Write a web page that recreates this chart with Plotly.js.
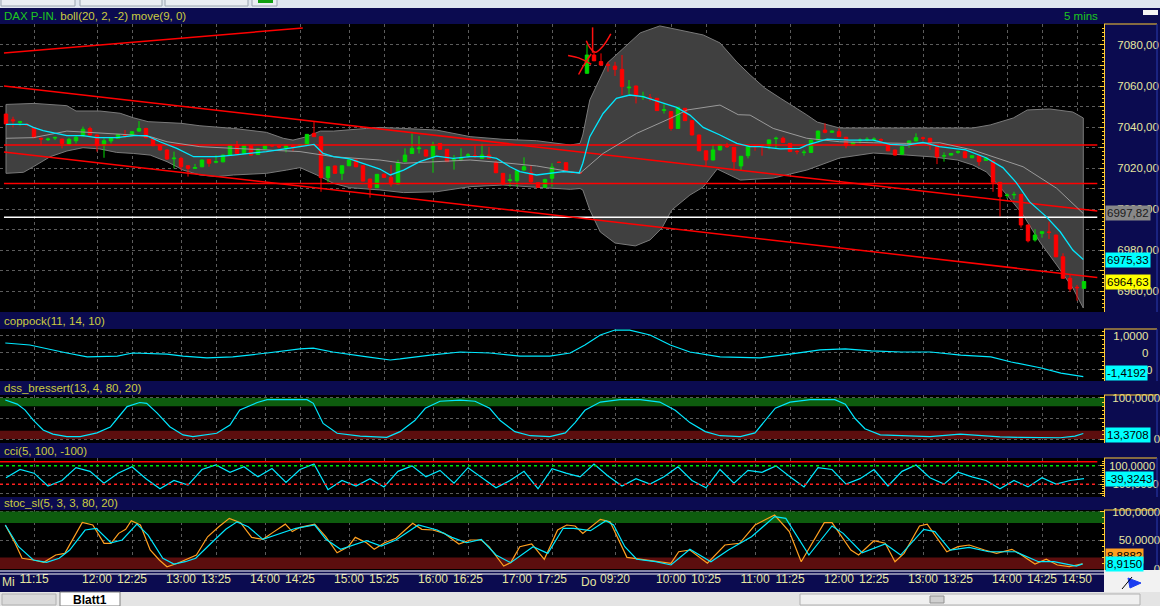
<!DOCTYPE html>
<html><head><meta charset="utf-8">
<script src="https://cdn.plot.ly/plotly-3.0.1.min.js"></script>
<style>html,body{margin:0;padding:0;background:#000;overflow:hidden}#chart{width:1160px;height:606px}</style>
</head><body><div id="chart"></div>
<script>
// ---------------- DATA ----------------
// x-axis tick labels (bar index of the tick, label text)
const tickBars   = [4,13,18,25,30,37,42,49,54,61,66,73,78,87,95,100,107,112,119,124,131,136,143,148,153];
const tickLabels = ['11:15','12:00','12:25','13:00','13:25','14:00','14:25','15:00','15:25','16:00','16:25','17:00','17:25',
                    '09:20','10:00','10:25','11:00','11:25','12:00','12:25','13:00','13:25','14:00','14:25','14:50'];
const dayLabels = ['Mi','Do'];

// 5-minute candles (Mi 10:55 .. 17:40, Do 09:00 .. 14:55)
const open = [
 7046.3,7043.5,7042.2,7041.3,7039.7,7034.5,7033.8,7034.6,7034.1,7031.7,
 7033.3,7035.6,7039.3,7036.1,7031.2,7033.2,7034.5,7036.2,7035.8,7038,
 7039.3,7034.8,7031.2,7028.8,7024.5,7024.7,7021.1,7019.8,7020.6,7024.2,
 7022.8,7023,7026.3,7031.2,7027.1,7030.9,7026.6,7029.3,7031.1,7030.6,
 7029.6,7030.7,7030.8,7031.2,7036.9,7035.3,7015.3,7021,7017.4,7021.1,
 7023.9,7021.1,7014.6,7010.4,7017,7015.4,7012.2,7023.1,7027.1,7029.4,
 7028.8,7025.5,7032,7029.1,7023.8,7024.3,7026.1,7026,7024.7,7026.3,
 7022.6,7017.4,7013.9,7013.8,7019,7017.7,7012.8,7010.6,7015,7022.9,
 7022.6,7017.9,7017.8,7066.2,7075.1,7071.9,7070.4,7069.7,7068.1,7059.1,
 7060,7054.6,7054.2,7054,7048.1,7047.5,7039.3,7049.1,7043.1,7036.1,
 7028.4,7023.9,7028.8,7030.6,7030.1,7021,7026,7030.6,7031.1,7030.9,
 7034.3,7034.5,7032,7028.1,7027.5,7027.6,7033.6,7038.5,7037.4,7037.7,
 7035,7031.2,7033.4,7033.8,7033.9,7033.8,7031.5,7028.8,7026.7,7032,
 7033.2,7034.7,7034.5,7030.4,7025.8,7026.3,7027.7,7027.9,7025,7026,
 7023.7,7023.6,7013,7006.6,7006.9,7007.1,6992.2,6984.9,6988.1,6988.8,
 6987.3,6976.7,6966.2,6961.8,6961.3];
const high = [
 7046.5,7045,7043,7042,7040,7034.8,7034.8,7035.3,7034.3,7034.8,
 7035.8,7040.2,7040.2,7036.4,7034.5,7035,7036.6,7038.5,7038,7042.9,
 7039.6,7035,7031.4,7029.2,7028,7025.5,7021.3,7022,7024.1,7024.4,
 7026.3,7026.5,7031.2,7033.2,7031.1,7031.1,7029.5,7031.1,7031.3,7031,
 7031.1,7031.5,7031.5,7036.6,7042.9,7035.5,7020.8,7021.2,7021.3,7024.1,
 7024.1,7021.3,7014.8,7017.1,7017.2,7021.4,7024,7029.6,7036.9,7035.6,
 7029,7032.8,7032.2,7029.3,7026.3,7029.6,7027.3,7031,7031.8,7030.3,
 7023.6,7017.6,7017,7018.9,7025.2,7021.4,7013,7014.8,7022.3,7023.1,
 7022.8,7018.1,7018,7080.3,7077,7075.9,7071.8,7071.8,7075.1,7062.9,
 7060.2,7057.2,7056.1,7054.2,7051.2,7047.7,7049.8,7049.3,7043.3,7036.3,
 7028.6,7031.2,7031.4,7032.3,7030.3,7025.9,7030.6,7031.2,7031.4,7033.9,
 7035.3,7035.3,7032.2,7028.8,7028.8,7033.8,7038.2,7041.8,7038.3,7039.3,
 7035.2,7032.7,7034.5,7035,7035,7034.5,7031.7,7029,7030.6,7033.4,
 7036.9,7035.3,7034.7,7030.6,7027.6,7027.3,7028.6,7028.1,7026.2,7026.2,
 7025.1,7023.8,7013.2,7007.6,7008.4,7007.3,6992.4,6990.2,6989.1,6993.8,
 6987.5,6978.4,6967.8,6962.9,6964.8];
const low = [
 7041.3,7039.8,7040.6,7040.8,7034.5,7031.2,7033.2,7033.6,7029.6,7031.2,
 7032,7035.3,7035.8,7028,7025,7032,7034.2,7034.8,7035.5,7037.7,
 7034.5,7030.6,7028.5,7023.9,7019.8,7019,7015.8,7019.5,7020.4,7020.6,
 7022.3,7022.8,7026.1,7026.6,7026.9,7026.1,7026.4,7029.1,7030.3,7029.6,
 7027.6,7028.1,7030.5,7031,7035.1,7008.4,7013,7017.2,7014.1,7020.9,
 7020.4,7013.4,7005.5,7010.2,7015.2,7010.9,7012,7022.9,7026.9,7027.1,
 7025.6,7017.7,7028.9,7022.9,7019.2,7023.3,7025,7024.8,7024.5,7024.5,
 7017.5,7011.7,7010.9,7010.9,7018.8,7012.5,7010.4,7010.4,7010.9,7022.5,
 7018.5,7017.5,7017.4,7066,7072.1,7070,7067,7064.9,7055.6,7056.1,
 7051.5,7053.2,7052.6,7047.8,7046.6,7038.2,7039.1,7042.9,7035.9,7028.2,
 7021,7023.7,7028.6,7029.8,7018.7,7019,7024.7,7028.4,7026,7029.2,
 7029.6,7032.3,7027.8,7026.7,7026,7027.4,7033.4,7036.9,7037.2,7035.1,
 7029.6,7031,7032,7033,7033,7032,7028.2,7026.1,7026.5,7029.9,
 7033,7033.2,7028.8,7021.9,7023.1,7026.1,7026.9,7024.8,7024.8,7021.1,
 7023.5,7008.4,6996.3,7005.2,7004.9,6990.9,6983.7,6984.1,6986,6985.4,
 6976.5,6966,6959.7,6955.3,6961.1];
const close = [
 7041.5,7043,7042.6,7041,7034.8,7034.1,7034.1,7034.9,7032,7034,
 7035,7038.9,7036.1,7030.9,7033.3,7034.8,7036.4,7035.9,7037.7,7039.3,
 7034.8,7030.9,7028.8,7024.4,7024.8,7020.6,7019.8,7020.2,7023.9,7022.3,
 7023.1,7026.3,7030.9,7027.1,7030.9,7026.3,7029.3,7030.9,7030.8,7030.3,
 7030.9,7030.4,7031.2,7036.4,7035.3,7015.3,7020.6,7017.4,7021.1,7023.9,
 7020.6,7013.6,7010.4,7016.9,7015.4,7012.2,7022.6,7026.3,7029.6,7029.7,
 7025.8,7031.2,7029.1,7023.1,7024,7024.8,7026.4,7025.7,7026.3,7024.7,
 7017.7,7012.2,7014.2,7018.7,7020.6,7013.3,7010.6,7014.4,7020.4,7022.7,
 7018.7,7017.7,7017.6,7075.1,7072.3,7070.2,7070.1,7068.1,7059.7,7059.4,
 7055.1,7054.9,7054,7048,7048.4,7039.3,7049.6,7043.1,7036.1,7028.4,
 7023.9,7028.8,7031.2,7030.4,7023.1,7025.7,7030.4,7030.4,7030.9,7033.7,
 7034.5,7032.5,7028,7028,7027.7,7033.6,7038,7037.4,7038,7035.3,
 7030.9,7032.5,7033.6,7034,7034.1,7033.6,7028.4,7026.3,7030.4,7033.2,
 7034.8,7034.5,7032.5,7025.5,7026,7027.1,7027.9,7025,7026,7023.1,
 7024.9,7013,7006,7006.8,7007.1,6992.2,6984.5,6987.3,6988.9,6988.6,
 6976.7,6966.2,6961,6961.6,6964.63];

// Bollinger envelope (bar position, price)
const bollUpX = [0,4,8.7,10,13.4,16.3,18.2,20.3,25,27.7,32.5,37.2,39.6,41,43,44.9,46.8,51.5,53.4,56.8,61.5,66.3,71,75.8,80.6,82,
  82.4,83.4,85.9,90.6,93.4,99.6,102,104.4,106.3,108.4,110.6,114.4,115.9,119.1,127.7,138.1,140.6,143.9,145.9,149.1,152.4,153.9];
const bollUpY = [7051,7051.5,7050.4,7047.8,7047.8,7046.7,7044.5,7042.6,7041.8,7040.6,7039.3,7037.4,7034.5,7033.6,7035.3,7038,7038,7039.3,7039.8,7039.3,7038.5,7035.3,7034,7033.3,7031.2,7032,
  7036.1,7053.2,7071.2,7085.9,7089.3,7084.9,7081,7071.7,7065.4,7059,7054.1,7045.9,7042.4,7039.5,7039.5,7039.5,7041,7044.4,7048.3,7048.8,7047.3,7044.4];
const bollLoX = [0,2.5,3.9,6.3,8.7,11,13.4,15.8,18.2,20.6,23,25.3,27.7,30.1,32.5,37.2,40.1,42,44.4,46.8,49.1,53.4,56.8,61.5,66.3,71,75.8,80.6,82,
  82.4,83.4,84.9,87,89.9,92,93.7,95.1,97.7,99.6,101.6,104.9,109.6,114.4,119.1,123.9,128.7,132.4,135.9,138.1,140.1,143,145.3,147.7,150.1,152.4,153.9];
const bollLoY = [7017.4,7017.9,7020.6,7025.5,7028.3,7029.9,7029.3,7027.6,7027.1,7026.3,7023.1,7019,7016.6,7015.8,7016.6,7017.4,7019,7020.2,7016.6,7012.5,7010.4,7009.3,7008,7008.4,7010.9,7011.7,7010.6,7009.6,7010,
  7009.3,6999.5,6988.8,6983.4,6982,6984.9,6990.7,6999.5,7006.8,7010.7,7019.5,7014.1,7015.1,7019,7024.9,7027.3,7026.3,7025.4,7023.9,7021.5,7018,7006.8,6997.1,6983.9,6972.7,6961.5,6951.7];
// Bollinger middle (grey) line
const bollMidX = [0,3.9,8.7,13.4,18.2,20.6,23,27.7,32.5,37.2,42,46.8,53.4,56.8,61.5,66.3,71,75.8,80.6,82,85.3,90.1,94.9,97.3,102,104.6,106.3,109.6,114.4,119.1,123.9,128.7,133.4,138.1,141,145.3,150.1,153.9];
const bollMidY = [7034.5,7034.8,7038,7037.2,7036.1,7035.3,7032.8,7030.4,7029.6,7029.1,7028,7025.5,7023.9,7022.3,7023.1,7023.9,7022.6,7021,7018.2,7017.4,7027.1,7036.9,7044.2,7048.3,7050.7,7046,7045.8,7039.3,7034.5,7032.8,7032.3,7032,7032.3,7028.8,7025.5,7020.6,7010.1,6997.82];
// move(9) cyan line
const moveX = [0,3,3.9,5.3,8.7,11,12.9,15.8,18.2,20.1,22,24.4,26.8,30.1,32.5,37.2,42,44,45.3,46.8,49.1,51.5,53.4,54.9,56.8,59.1,61.5,63.9,66.3,68.7,70.1,72,73.4,75.8,77.7,79.6,81.9,
  82.4,83.4,85.3,87.2,89.1,91,93.4,95.8,97.7,99.6,102,104.4,106.3,107.7,110.6,113.4,114.4,117.3,120.6,123.9,126.3,128.7,131,133.3,137.1,140,142.4,144.3,146.2,148.6,150.6,152.4,153.9];
const moveY = [7041.3,7041.3,7039.8,7038.2,7035.8,7035.8,7034.8,7034.8,7035.8,7035.8,7032.8,7029.6,7025.5,7025.5,7026.3,7028,7030.4,7031.5,7027.1,7025.5,7024.4,7021.5,7019.5,7016.6,7019,7023.1,7025.8,7024.7,7025.5,7025.5,7024.7,7020.6,7018.2,7016.6,7017.4,7018.2,7017.7,
  7022.3,7035.3,7046.6,7054,7055.6,7054.8,7052.3,7049.6,7045.8,7039.8,7036.1,7032,7030.4,7030.4,7029.3,7029.6,7031.2,7034.1,7033.6,7033.6,7031.5,7031.2,7032.5,7030.4,7028.8,7025,7020.2,7013,7003.6,6996.3,6988.9,6980,6975.33];

// drawn lines (bar position, price)
const topLineX = [-0.29, 42.4],     topLineY = [7076.1, 7088.3];
const chanUpX  = [-0.29, 155.9],    chanUpY  = [7060, 6999];
const chanLoX  = [-0.29, 155.9],    chanLoY  = [7027.8, 6966.6];
const hLineX   = [-0.29, 155.9];
const hLevels  = [7031.2, 7012.5];
const whiteLevel = 6996;
// hand drawn marks (bar position, price)
const markArrowX = [83.8, 83.8],            markArrowY = [7088.6, 7076.2];
const markHookX  = [82.9, 83.4, 84.2, 85.3, 86.4], markHookY = [7082.1, 7078.8, 7076.4, 7079.5, 7085.4];
const markX1X = [80.3, 81.8, 83.6],  markX1Y = [7074.9, 7073.7, 7070.6];
const markX2X = [83.6, 82.6, 81.8], markX2Y = [7075.6, 7070.4, 7065.6];

const priceTicks = [6960,6980,7000,7020,7040,7060,7080];
const lastValues = {gray: 6997.82, cyan: 6975.33, yellow: 6964.63};

// coppock(11,14,10)
const copX = [-0.1,3.4,8.7,11.6,15.9,18.1,23,25.3,28.7,32.4,37.3,42,43.9,46.7,51.6,54.9,56.3,60.6,64.9,69.1,73.4,77.7,80.6,82.7,84.9,87,89.1,92,94.9,97.7,102,107.7,112,116.3,119.9,123.6,127.9,132.1,136.4,140.7,143.6,147.9,150.7,153.9];
const copY = [0.56,0.44,-0.03,-0.26,-0.21,-0.03,-0.09,-0.21,-0.32,-0.26,-0.03,0.21,0.26,0.03,-0.26,-0.44,-0.38,-0.15,0.03,-0.03,-0.21,-0.21,-0.03,0.44,1.03,1.32,1.32,1.03,0.44,0.03,-0.26,-0.32,-0.09,0.15,0.21,0.09,0.03,0.03,-0.15,-0.26,-0.56,-0.91,-1.21,-1.4192];
const copTicks = [-1,0,1];

// dss_bressert(13,4,80,20)
const dssX = [-0.1,1.6,2.7,3.9,5.3,6.7,8.7,10.6,13,14.9,15.9,17.3,19.1,20.1,21.6,23.4,25.3,26.7,30.1,32,33.4,35.9,37.3,43,43.9,45.3,47.3,50.6,54.4,56.3,
  58.4,59.9,62,64.9,67,69.1,70.6,72.7,74.9,77.7,79.9,81.3,82.7,84.9,87.7,90.6,93.4,95.6,97.7,99.9,102,104.9,107,108.4,109.9,112,114.9,118.4,119.9,121.3,122.7,124.9,127.7,132,136.3,139.1,142,144.9,147.7,150.6,152.7,153.9];
const dssY = [95,85,71,46,22,12,6,6,15,29,50,79,89,87,63,30,10,6,14,34,71,89,96,96,87,38,14,7,4,18,
  45,75,92,95,92,75,45,18,8,6,15,40,70,90,96,96,90,70,40,18,8,6,15,45,75,90,96,96,85,50,25,10,8,6,12,8,5,4,4,3,7,13.3708];
const dssTicks = [0,100];

// cci(5,100,-100)
const cciX = [0,2,4,6,8,10,12,14,16,18,20,22,24,26,28,30,32,34,36,38,40,42,44,46,48,50,52,54,56,58,60,62,64,66,68,70,72,74,76,78,80,82,
  84,86,88,90,92,94,96,98,100,102,104,106,108,110,112,114,116,118,120,122,124,126,128,130,132,134,136,138,140,142,144,146,148,150,152,154];
const cciY = [-30,60,20,-120,-60,80,40,-90,20,90,-40,-150,-60,-110,60,110,30,90,-20,70,-80,60,120,-160,-60,-120,-40,-130,40,100,-20,50,-90,80,-30,-140,-60,40,-150,70,20,-20,
  120,-10,-120,-40,-100,-20,90,-60,-140,60,-90,50,30,100,-20,-130,80,60,-100,-40,60,-120,40,110,-30,-100,30,-20,-60,-150,-60,-130,-30,-100,-60,-39.3243];
const cciTicks = [-100,100];

// stoc_sl(5,3,3,80,20): %K (orange) and %D (cyan)
const stoKX = [-0.1,1.3,2.3,3.9,5.4,7.1,8.4,10.9,12.4,14,15,16.1,17.1,17.9,19.2,20.6,21.9,23,24.5,26.1,27.2,28.8,30.4,31.9,33.5,35.1,36.7,38.3,39.9,40.9,42,44.1,45.7,47.3,48.9,49.9,51.5,52.6,54.1,55.7,58.1,59.4,61,62.6,64.7,66.3,67.9,69,71.1,72.1,73.4,75.1,76.9,78.8,80.1,
  81.3,82.4,84.9,86.3,88.7,91.2,95,96.1,97.7,100.2,102.7,104.8,107,109.8,111.9,113.6,116.9,118,120.7,121.8,124,125.6,127,128.3,130.5,131.6,134.4,136,137.6,139.8,141.5,143.7,144.7,147,148.6,150.2,151.9,153.8];
const stoKY = [76.5,44.7,18.6,15.7,11.6,24.3,27.2,81,76.5,44.7,44.7,62,69,84,76.5,33,15.7,4,10,18.6,24.3,56,73.6,88,80.5,55,51.6,65,78,65,72.5,78,56,28.3,38.8,55,45.7,34.2,45.7,53.4,79.5,69,67.8,62,43.5,50.4,50.4,38.8,5.2,11,38.8,43.5,16.9,67.8,76.5,
  74.8,62,86.4,82.3,20.3,15.7,10,30,33,10,41.7,44.7,76.5,93.9,65,12.7,80.5,80.5,33,24.3,49.2,44.7,12.7,27.2,74.8,78,30,38.8,41.7,33,27.2,34.2,27.2,8.7,16.9,7,4,8.8882];
const stoDX = [-0.1,1.8,3.9,5.8,7.6,9.1,11.3,12.9,15,16.6,18.7,20.3,22.4,24,25.6,27.1,29.3,31.4,33,34.6,36.7,39.4,41.4,44.1,45.7,47.8,49.9,51.5,53.6,55.7,58.9,61.6,63.7,65.8,67.9,70,72.1,75.3,77.4,79.6,
  81.1,83.5,85.7,86.8,88.4,90.1,92.8,95,97.7,100.7,103.2,106.5,109.8,111.4,114.7,118,119.6,122.3,125.6,127.8,131.1,132.7,134.9,137.6,140.4,144.2,147.5,149.7,152.9,153.8];
const stoDY = [76.5,38.8,15.7,11.6,18.6,33,67.8,70.8,45.7,50.4,78,59,18.6,8.7,12.7,18.6,44.7,69,82,73.6,51.6,63,70.8,76.5,51.6,34.2,43.5,49.2,40,50.4,76.5,67.8,55,45.7,51.6,24.3,11,38.8,27.2,70.8,
  70.8,66.6,84,76.5,38.8,16.9,12.7,7,34.2,12.7,33,56,91,88,24.3,74.8,62,28.3,43.5,24.3,69,65,33,37.7,30,30,12.7,12.7,5.2,8.915];
const stoTicks = [0,50,100];

// ---------------- LAYOUT HELPERS (geometry only) ----------------
const W = 1160, H = 606;
const fx = x => x / W, fy = y => 1 - y / H;
const dom = (t, b) => [fy(b), fy(t)];
const NAVY = '#0b0b50', YEL = '#ffcc33', LBL = '#e6e6a0', GRID = '#5c5c5c', CYAN = '#00e8ff', ORANGE = '#ffa020';
const FONT = 'Liberation Sans, Arial, sans-serif';
const fmt = (v, d) => v === 0 ? '0' : v.toFixed(d).replace('.', ',');
// right-align tick text inside the label box with figure / punctuation spaces
const padTo = (s, ref) => {
  let pad = '';
  const extra = ref.length - s.length;
  for (let k = 0; k < extra; k++) pad += (ref[k] === ',' ? '\u2008' : '\u2007');
  return pad + s;
};
const idx = open.map((_, k) => k);

// pane geometry: pixel top/bottom, value range, grid step, minor tick step, labelled values
const panes = {
  main: {t: 24, b: 312, range: [6949.76, 7090.24], grid: 10, minor: 2, ticks: priceTicks, dec: 2, stand: 10, fs: 11.5},
  cop:  {t: 329, b: 381, range: [-1.676, 1.382], grid: 1, minor: 0.25, ticks: copTicks, dec: 4, stand: 6, fs: 11.5},
  dss:  {t: 395, b: 443, range: [-9.76, 107.3], grid: 50, minor: 10, ticks: dssTicks, dec: 4, stand: 5, fs: 11.5},
  cci:  {t: 458, b: 497, range: [-240.4, 185.8], grid: 100, minor: 25, ticks: cciTicks, dec: 4, stand: 2, fs: 11},
  sto:  {t: 510, b: 570, range: [-1.74, 102.6], grid: 50, minor: 10, ticks: stoTicks, dec: 4, stand: 5, fs: 11.5}
};
const order = ['main', 'cop', 'dss', 'cci', 'sto'];

const layout = {
  width: W, height: H, margin: {l: 0, r: 0, t: 0, b: 0},
  paper_bgcolor: NAVY, plot_bgcolor: '#000000', showlegend: false, hovermode: false,
  font: {family: FONT, size: 12, color: LBL},
  xaxis: {domain: [0, fx(1104)], range: [-0.857, 156.857], anchor: 'y5', tickmode: 'array',
    tickvals: tickBars, ticktext: tickLabels, showgrid: true, gridcolor: GRID, griddash: 'dot', gridwidth: 1,
    zeroline: false, showline: false, ticks: '', tickfont: {size: 12, color: LBL, family: FONT},
    rangeslider: {visible: false}, fixedrange: true},
  shapes: [], annotations: []
};

order.forEach((k, n) => {
  const p = panes[k];
  const id = n === 0 ? '' : String(n + 1);
  const labels = p.ticks.map(v => fmt(v, p.dec));
  const longest = labels.reduce((a, b) => (b.replace('-', '').length > a.length ? b.replace('-', '') : a), '');
  const labelOf = v => {
    const j = p.ticks.indexOf(v);
    if (j < 0) return '';
    const s = labels[j];
    return s.startsWith('-') ? s : padTo(s, longest);
  };
  // grid levels of the pane (every p.grid inside the visible range)
  const gridVals = [];
  for (let v = Math.ceil(p.range[0] / p.grid) * p.grid; v <= p.range[1]; v += p.grid) gridVals.push(Math.round(v * 1000) / 1000);
  layout['yaxis' + id] = {
    domain: dom(p.t, p.b), range: p.range, anchor: 'x', side: 'right',
    showline: true, linecolor: YEL, linewidth: 1, ticks: 'inside', ticklen: 4, tickcolor: YEL,
    tickmode: 'array', tickvals: gridVals, ticktext: gridVals.map(labelOf),
    ticklabelstandoff: p.stand, tickfont: {size: p.fs, color: LBL, family: FONT},
    showgrid: true, gridcolor: GRID, griddash: 'dot', gridwidth: 1, zeroline: false, fixedrange: true,
    minor: {dtick: p.minor, tick0: 0, ticks: 'inside', ticklen: 2, tickcolor: YEL, showgrid: false}
  };
  layout.shapes.push({type: 'line', xref: 'paper', yref: 'paper', x0: fx(1104), x1: fx(1157), y0: fy(p.t), y1: fy(p.t), line: {color: YEL, width: 1}});
  layout.shapes.push({type: 'line', xref: 'paper', yref: 'paper', x0: fx(1157), x1: fx(1157), y0: fy(p.t), y1: fy(p.b), line: {color: '#2a3cb0', width: 1}});
});

// indicator bands
const band = (yr, y0, y1, c) => ({type: 'rect', xref: 'x', yref: yr, x0: -0.857, x1: 156.857, y0: y0, y1: y1, fillcolor: c, line: {width: 0}, layer: 'between'});
layout.shapes.push(band('y3', 80, 100, '#0e5c0e'), band('y3', 0, 20, '#5c0e0e'));
layout.shapes.push(band('y5', 80, 100, '#0e5c0e'), band('y5', 0, 20, '#5c0e0e'));
// cci reference lines
layout.shapes.push({type: 'line', xref: 'x', yref: 'y4', x0: -0.857, x1: 155.9, y0: 145, y1: 145, line: {color: '#ff0000', width: 1.5}});
layout.shapes.push({type: 'line', xref: 'x', yref: 'y4', x0: -0.857, x1: 155.9, y0: 100, y1: 100, line: {color: '#00e000', width: 1.5, dash: 'dot'}});
layout.shapes.push({type: 'line', xref: 'x', yref: 'y4', x0: -0.857, x1: 155.9, y0: -100, y1: -100, line: {color: '#ff2020', width: 1.5, dash: 'dot'}});

// Bollinger envelope as a data-space path under the candles
const env = bollUpX.map((x, k) => `${k ? 'L' : 'M'}${x},${bollUpY[k]}`).join(' ') + ' ' +
  bollLoX.slice().reverse().map((x, k) => `L${x},${bollLoY[bollLoY.length - 1 - k]}`).join(' ') + ' Z';
layout.shapes.push({type: 'path', xref: 'x', yref: 'y', path: env, fillcolor: '#404040', line: {color: '#7a7a7a', width: 1}, layer: 'between'});

// chrome: top strip, double line under panes, corner cell, bottom strip
const rect = (x0, y0, x1, y1, fill, lc, lw) => ({type: 'rect', xref: 'paper', yref: 'paper', x0: fx(x0), x1: fx(x1), y0: fy(y1), y1: fy(y0), fillcolor: fill, line: {color: lc || fill, width: lw || 0}, layer: 'above'});
layout.shapes.push(rect(0, 0, 1160, 8, '#dfe6ee'));
layout.shapes.push(rect(1, -3, 75, 6, '#e9edf2', '#9aa4b0', 1), rect(80, -3, 162, 6, '#e9edf2', '#9aa4b0', 1), rect(165, -3, 248, 6, '#e9edf2', '#9aa4b0', 1), rect(252, -3, 277, 6, '#e9edf2', '#9aa4b0', 1), rect(258, -2, 273, 3, '#10a010'));
layout.shapes.push(rect(1143, 10, 1158, 15, '#f4f4f4'));
layout.shapes.push({type: 'line', xref: 'paper', yref: 'paper', x0: 0, x1: fx(1104), y0: fy(571), y1: fy(571), line: {color: '#ffffff', width: 1}});
layout.shapes.push({type: 'line', xref: 'paper', yref: 'paper', x0: 0, x1: fx(1104), y0: fy(574), y1: fy(574), line: {color: '#ffffff', width: 1}});
layout.shapes.push(rect(1104, 570, 1160, 592, '#f2f2f2'));
layout.shapes.push({type: 'path', xref: 'paper', yref: 'paper', path: `M ${fx(1128)} ${fy(578)} L ${fx(1141)} ${fy(583)} L ${fx(1130)} ${fy(588)} Z`, fillcolor: '#1a3cf0', line: {color: '#1a3cf0', width: 1}});
layout.shapes.push({type: 'line', xref: 'paper', yref: 'paper', x0: fx(1122), x1: fx(1132), y0: fy(589), y1: fy(577), line: {color: '#000', width: 1}});
layout.shapes.push(rect(0, 592, 1160, 606, '#e4e4e4'));
layout.shapes.push(rect(2, 594, 56, 605, '#dadada', '#b0b0b0', 1));
layout.shapes.push(rect(60, 592, 120, 606, '#ffffff', '#808080', 1));
layout.shapes.push(rect(800, 594, 1140, 605, '#f0f0f0', '#b0b0b0', 1));
layout.shapes.push(rect(930, 596, 944, 603, '#d0d0d0', '#909090', 1));

// pane titles
const title = (y, txt) => ({xref: 'paper', yref: 'paper', x: fx(2), y: fy(y), xanchor: 'left', yanchor: 'middle', showarrow: false,
  text: txt, font: {family: FONT, size: 11.5, color: '#cccc40'}});
layout.annotations.push(title(16, '<span style="color:#1ec81e">DAX P-IN.</span> boll(20, 2, -2) move(9, 0)'));
layout.annotations.push({xref: 'paper', yref: 'paper', x: fx(1100), y: fy(16), xanchor: 'right', yanchor: 'middle', showarrow: false, text: '5 mins', font: {family: FONT, size: 11.5, color: '#1ec81e'}});
layout.annotations.push(title(321, 'coppock(11, 14, 10)'));
layout.annotations.push(title(388, 'dss_bressert(13, 4, 80, 20)'));
layout.annotations.push(title(451, 'cci(5, 100, -100)'));
layout.annotations.push(title(503, 'stoc_sl(5, 3, 3, 80, 20)'));
// day markers on the time axis
layout.annotations.push({xref: 'paper', yref: 'paper', x: fx(0), y: fy(582), xanchor: 'left', yanchor: 'middle', showarrow: false, text: dayLabels[0], font: {family: FONT, size: 12, color: LBL}});
layout.annotations.push({xref: 'paper', yref: 'paper', x: fx(579), y: fy(582), xanchor: 'left', yanchor: 'middle', showarrow: false, text: dayLabels[1], font: {family: FONT, size: 12, color: LBL}});
layout.annotations.push({xref: 'paper', yref: 'paper', x: fx(90), y: fy(599.5), xanchor: 'center', yanchor: 'middle', showarrow: false, text: '<b>Blatt1</b>', font: {family: FONT, size: 12, color: '#000'}});

// last value boxes
const box = (yref, y, txt, bg, fc) => ({xref: 'paper', yref: yref, x: fx(1105), y: y, xanchor: 'left', yanchor: 'middle', showarrow: false,
  text: txt, bgcolor: bg, borderpad: 1, font: {family: FONT, size: 11.5, color: fc || '#000'}});
layout.annotations.push(box('y', lastValues.gray, fmt(lastValues.gray, 2), '#888888', '#1a1a1a'));
layout.annotations.push(box('y', lastValues.cyan, fmt(lastValues.cyan, 2), '#00ffff'));
layout.annotations.push(box('y', lastValues.yellow, fmt(lastValues.yellow, 2), '#ffff00'));
layout.annotations.push(box('paper', fy(373), fmt(copY[copY.length - 1], 4), '#00ffff'));
layout.annotations.push(box('paper', fy(435), fmt(dssY[dssY.length - 1], 4), '#00ffff'));
layout.annotations.push(box('paper', fy(479), fmt(cciY[cciY.length - 1], 4), '#00ffff'));
layout.annotations.push(box('paper', fy(556), fmt(stoKY[stoKY.length - 1], 4), '#ffa020'));
layout.annotations.push(box('paper', fy(564), fmt(stoDY[stoDY.length - 1], 4), '#00ffff'));

// ---------------- TRACES ----------------
const line = (x, y, color, width, yaxis, extra) => Object.assign({type: 'scatter', mode: 'lines', x: x, y: y, yaxis: yaxis || 'y',
  line: {color: color, width: width}, hoverinfo: 'skip'}, extra || {});
const traces = [];
traces.push({type: 'candlestick', x: idx, open: open, high: high, low: low, close: close, yaxis: 'y', hoverinfo: 'skip',
  whiskerwidth: 0,
  increasing: {line: {color: '#00d800', width: 1}, fillcolor: '#00d800'},
  decreasing: {line: {color: '#ff0000', width: 1}, fillcolor: '#ff0000'}});
traces.push(line(hLineX, hLineX.map(() => hLevels[0]), '#ff0000', 1.5));
traces.push(line(hLineX, hLineX.map(() => hLevels[1]), '#ff0000', 1.5));
traces.push(line(hLineX, hLineX.map(() => whiteLevel), '#ffffff', 1.5));
traces.push(line(topLineX, topLineY, '#ff0000', 1.5));
traces.push(line(chanUpX, chanUpY, '#ff0000', 1.5));
traces.push(line(chanLoX, chanLoY, '#ff0000', 1.5));
traces.push(line(bollMidX, bollMidY, '#9a9a9a', 1));
traces.push(line(moveX, moveY, CYAN, 1.3));
traces.push(line(markArrowX, markArrowY, '#ff1010', 1.5));
const spl = {line: {color: '#ff1010', width: 1.5, shape: 'spline'}};
traces.push(line(markHookX, markHookY, '#ff1010', 1.5, 'y', spl));
traces.push(line(markX1X, markX1Y, '#ff1010', 1.5, 'y', spl));
traces.push(line(markX2X, markX2Y, '#ff1010', 1.5, 'y', spl));
traces.push(line(copX, copY, CYAN, 1.2, 'y2'));
traces.push(line(dssX, dssY, CYAN, 1.2, 'y3'));
traces.push(line(cciX, cciY, CYAN, 1.2, 'y4'));
traces.push(line(stoKX, stoKY, ORANGE, 1.2, 'y5'));
traces.push(line(stoDX, stoDY, CYAN, 1.2, 'y5'));

Plotly.newPlot('chart', traces, layout, {staticPlot: true, displayModeBar: false});
</script></body></html>
